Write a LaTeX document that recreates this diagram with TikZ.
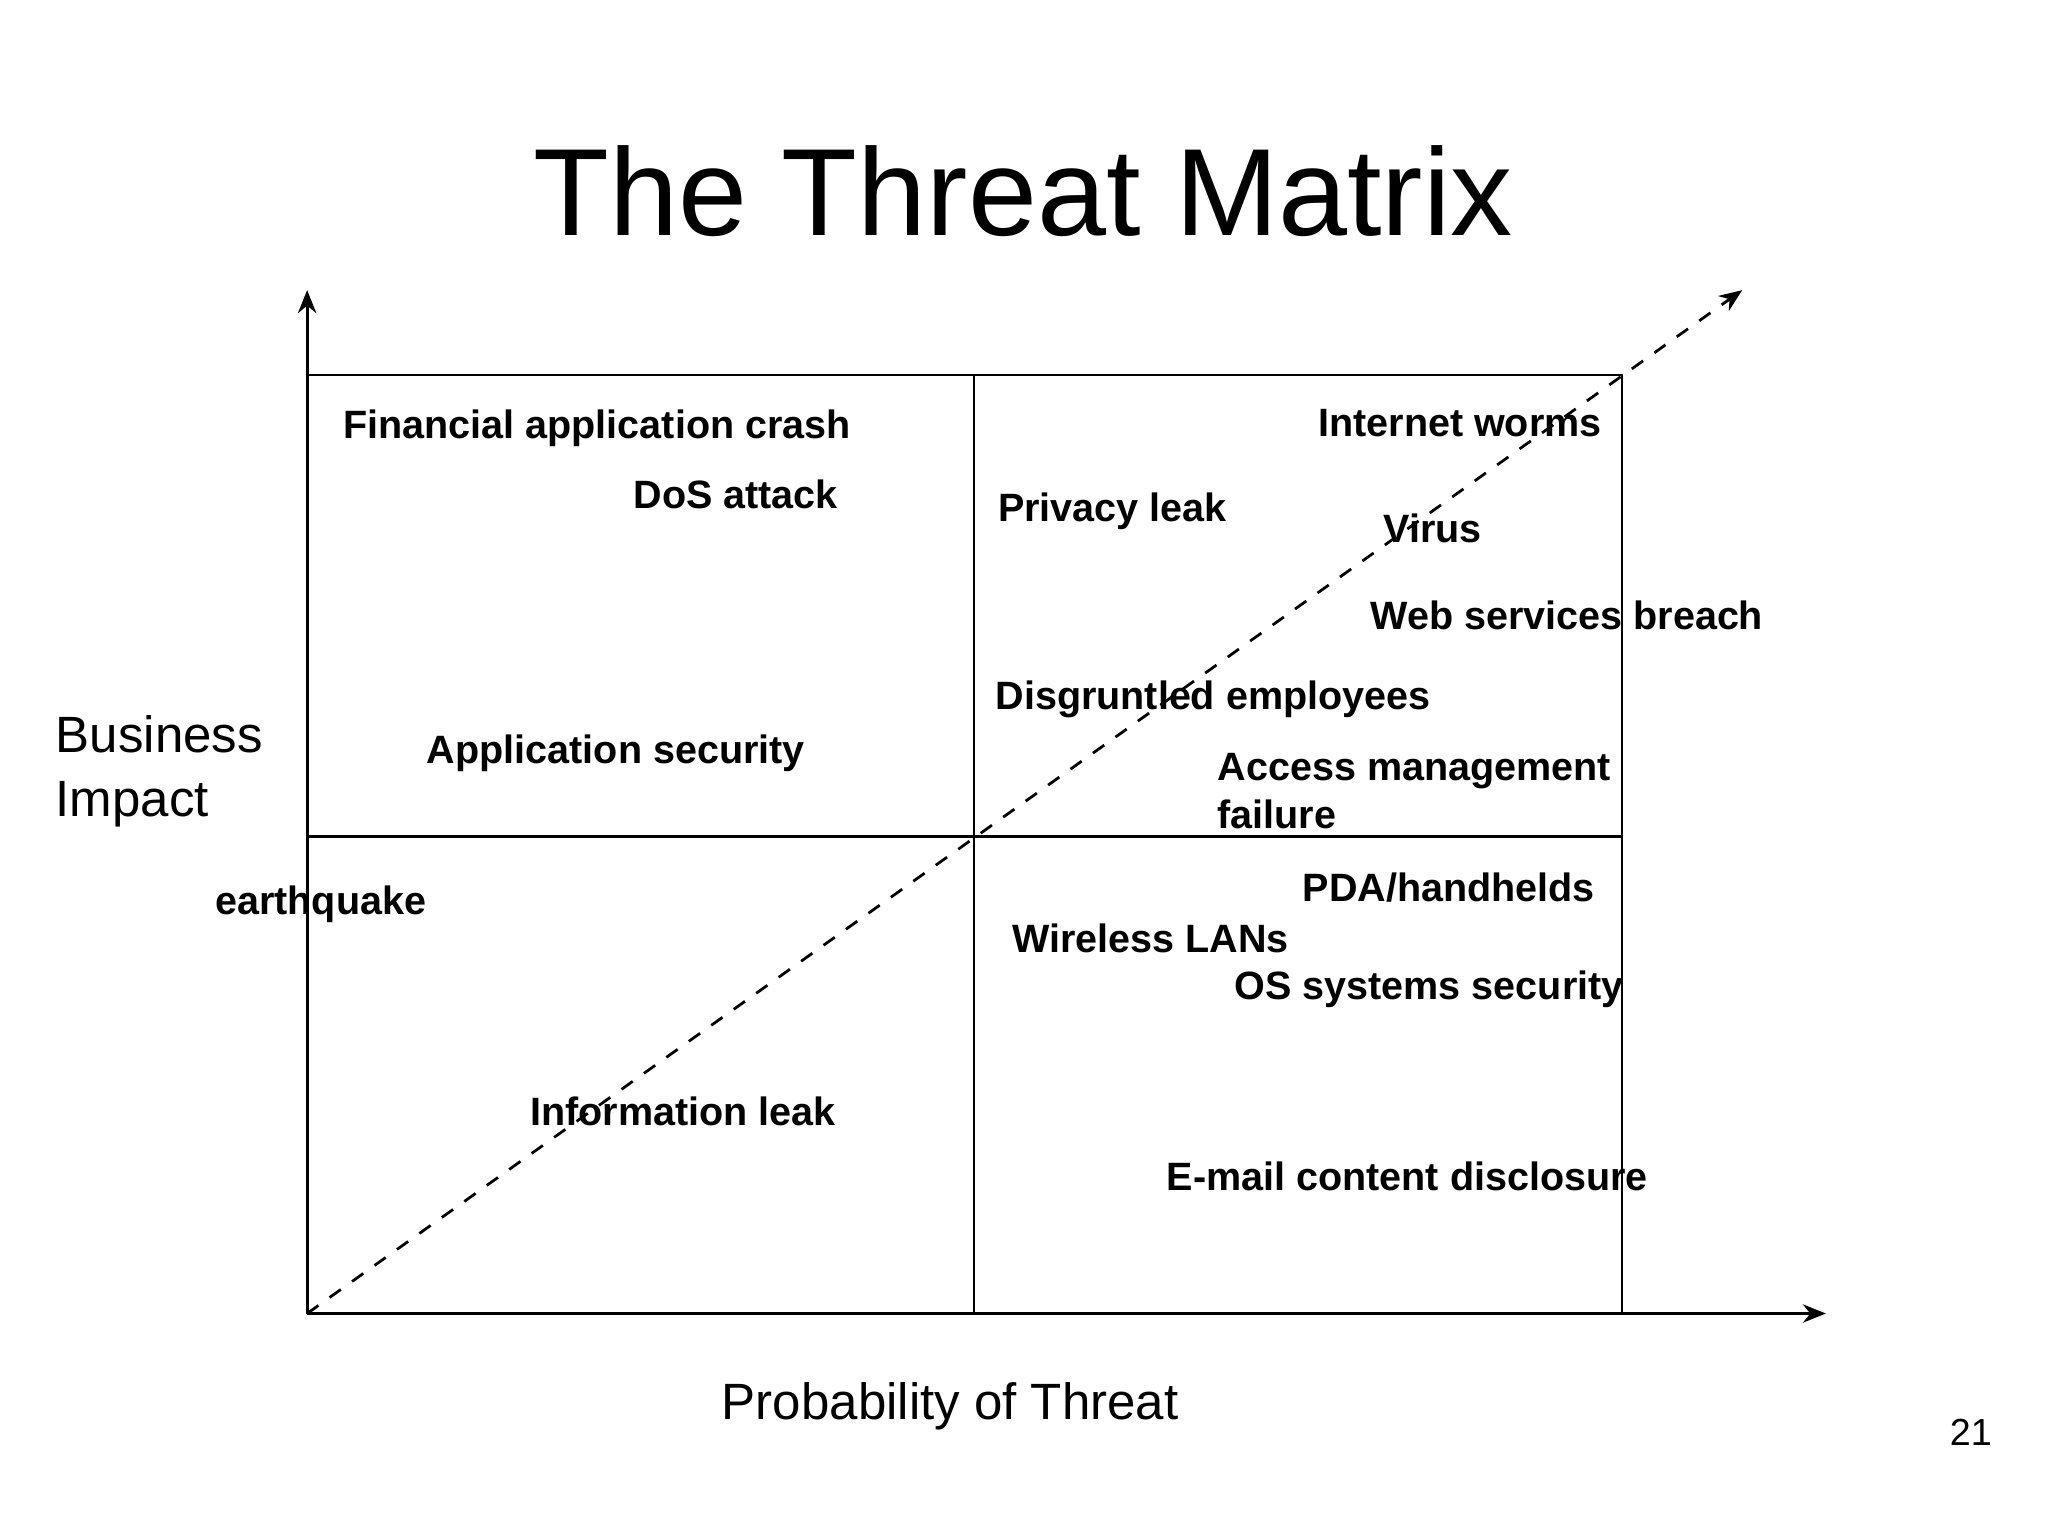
\documentclass[tikz,border=0pt]{standalone}
\usepackage{fontspec}
\setmainfont{Liberation Sans}
\usetikzlibrary{arrows.meta}
\begin{document}
\begin{tikzpicture}[x=0.01cm,y=-0.01cm,
  lbl/.style={anchor=west,inner sep=0pt,font=\fontsize{8.6}{10.5}\selectfont\bfseries,align=left},
  axis/.style={line width=0.6pt,-{Stealth[length=5pt,width=4pt]}},
  grid/.style={line width=0.5pt}]
\useasboundingbox (0,0) rectangle (1567,1175);
\node[inner sep=0pt,font=\fontsize{27}{30}\selectfont] (title) at (783,146) {The Threat Matrix};
\coordinate (o) at (235,1005);
\coordinate (ytop) at (235,222);
\coordinate (xend) at (1397,1005);
\coordinate (dend) at (1333,222);
\draw[axis] (o) -- (ytop);
\draw[axis] (o) -- (xend);
\draw[grid] (235,287) -- (1241,287) -- (1241,1005);
\draw[grid] (745,287) -- (745,1005);
\draw[grid] (235,640) -- (1241,640);
\draw[dashed,line width=0.6pt,-{Stealth[length=5pt,width=4pt]}] (o) -- (dend);
\node[anchor=west,inner sep=0pt,font=\fontsize{11.1}{14}\selectfont,align=left] (bi) at (42,590) {Business\\Impact};
\node[inner sep=0pt,font=\fontsize{11.1}{14}\selectfont] (pt) at (727,1076) {Probability of Threat};
\node[inner sep=0pt,font=\fontsize{8.2}{10}\selectfont] (pg) at (1508,1096) {21};
\node[lbl] (a1) at (262,328) {Financial application crash};
\node[lbl] (a2) at (484,378) {DoS attack};
\node[lbl] (a3) at (326,576) {Application security};
\node[lbl] (a4) at (164,692) {earthquake};
\node[lbl] (a5) at (405,850) {Information leak};
\node[lbl] (b1) at (1008,324) {Internet worms};
\node[lbl] (b2) at (763,391) {Privacy leak};
\node[lbl] (b3) at (1058,404) {Virus};
\node[lbl] (b4) at (1048,471) {Web services breach};
\node[lbl] (b5) at (761,535) {Disgruntled employees};
\node[lbl] (b6) at (931,605) {Access management\\failure};
\node[lbl] (c1) at (996,679) {PDA/handhelds};
\node[lbl] (c2) at (774,718) {Wireless LANs};
\node[lbl] (c3) at (944,757) {OS systems security};
\node[lbl] (c4) at (892,900) {E-mail content disclosure};
\end{tikzpicture}
\end{document}
